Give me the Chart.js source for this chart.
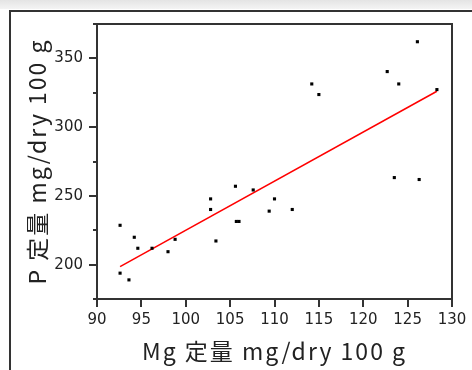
<!DOCTYPE html>
<html>
<head>
<meta charset="utf-8">
<script src="https://cdn.jsdelivr.net/npm/chart.js@4"></script>
<style>
  html, body { margin: 0; padding: 0; background: #fff; }
  #wrap { position: relative; width: 472px; height: 370px; overflow: hidden; }
  #strip { position: absolute; left: 0; top: 0; width: 472px; height: 9px;
           background: linear-gradient(#e4e4e4, #f4f4f4); }
  #frame { position: absolute; left: 9px; top: 10px; width: 480px; height: 380px;
           border-left: 2px solid #333; border-top: 2px solid #333; }
  canvas { position: absolute; left: 0; top: 0; }
</style>
</head>
<body>
<div id="wrap">
  <div id="strip"></div>
  <div id="frame"></div>
  <canvas id="mgChart" width="472" height="370"></canvas>
</div>
<script>
// Mg content vs P content (mg/dry 100 g)
const mgValues = [
  92.6, 92.6, 93.6, 94.2, 94.6, 96.2, 98.0, 98.8, 102.8, 102.8,
  103.4, 105.6, 105.7, 106.0, 107.6, 109.4, 110.0, 112.0, 114.2, 115.0,
  122.7, 124.0, 126.1, 128.3, 123.5, 126.3
];
const pValues = [
  228.6, 193.8, 188.9, 219.9, 211.9, 211.9, 209.4, 218.4, 247.8, 240.1,
  217.2, 257.0, 231.4, 231.4, 254.3, 238.9, 247.8, 240.1, 331.4, 323.7,
  340.4, 331.4, 362.1, 327.3, 263.3, 261.9
];
// regression line end points
const fitX = [92.6, 128.3];
const fitY = [198.6, 326.1];

const xTicks = [90, 95, 100, 105, 110, 115, 120, 125, 130];
const yTicks = [200, 250, 300, 350];

const xTitle = 'Mg 定量 mg/dry 100 g';
const yTitle = 'P 定量 mg/dry 100 g';

const points = mgValues.map((x, i) => ({x: x, y: pValues[i]}));
const fitPoints = fitX.map((x, i) => ({x: x, y: fitY[i]}));

const axisColor = '#333';
const titleFont = '23px "Noto Sans CJK JP"';

// plot box, tick marks and the two axis titles (drawn with letter spacing)
const framePlugin = {
  id: 'frame',
  afterDraw(chart) {
    const {ctx, chartArea: a, scales} = chart;
    ctx.save();
    ctx.strokeStyle = axisColor;
    ctx.lineWidth = 2;
    ctx.strokeRect(a.left, a.top, a.right - a.left, a.bottom - a.top);
    ctx.beginPath();
    scales.x.ticks.forEach(t => {
      const px = Math.round(scales.x.getPixelForValue(t.value));
      ctx.moveTo(px, a.bottom);
      ctx.lineTo(px, a.bottom + 8);
    });
    scales.y.ticks.forEach(t => {
      const py = Math.round(scales.y.getPixelForValue(t.value));
      const len = t.value % 50 === 0 ? 8 : 4;
      ctx.moveTo(a.left, py);
      ctx.lineTo(a.left - len, py);
    });
    ctx.stroke();

    ctx.fillStyle = '#222';
    ctx.font = titleFont;
    ctx.letterSpacing = '2px';
    ctx.textAlign = 'center';
    ctx.textBaseline = 'middle';
    ctx.fillText(xTitle, (a.left + a.right) / 2, 351);
    ctx.translate(37, (a.top + a.bottom) / 2);
    ctx.rotate(-Math.PI / 2);
    ctx.fillText(yTitle, 0, 0);
    ctx.restore();
  }
};

const ctx = document.getElementById('mgChart').getContext('2d');
new Chart(ctx, {
  type: 'scatter',
  data: {
    datasets: [
      {
        label: 'data',
        data: points,
        pointStyle: 'rect',
        pointRadius: 2.2,
        pointHoverRadius: 2.2,
        backgroundColor: '#000',
        borderWidth: 0
      },
      {
        type: 'line',
        label: 'fit',
        data: fitPoints,
        borderColor: '#ff0000',
        borderWidth: 1.5,
        pointRadius: 0,
        fill: false
      }
    ]
  },
  options: {
    responsive: false,
    animation: false,
    layout: {padding: {left: 0, top: 24, right: 20, bottom: 0}},
    plugins: {legend: {display: false}, tooltip: {enabled: false}},
    scales: {
      x: {
        type: 'linear',
        min: 90,
        max: 130,
        afterFit: s => { s.height = 71; s.paddingLeft = 0; s.paddingRight = 0; },
        afterBuildTicks: s => { s.ticks = xTicks.map(v => ({value: v})); },
        grid: {display: false, drawTicks: false},
        border: {display: false},
        ticks: {
          padding: 12,
          color: '#222',
          font: {family: 'DejaVu Sans', size: 15},
          maxRotation: 0,
          autoSkip: false
        }
      },
      y: {
        min: 175,
        max: 375,
        afterFit: s => { s.width = 97; s.paddingTop = 0; s.paddingBottom = 0; },
        ticks: {
          stepSize: 25,
          padding: 14,
          color: '#222',
          font: {family: 'DejaVu Sans', size: 15},
          callback: v => (yTicks.includes(v) ? String(v) : '')
        },
        grid: {display: false, drawTicks: false},
        border: {display: false}
      }
    }
  },
  plugins: [framePlugin]
});
</script>
</body>
</html>
